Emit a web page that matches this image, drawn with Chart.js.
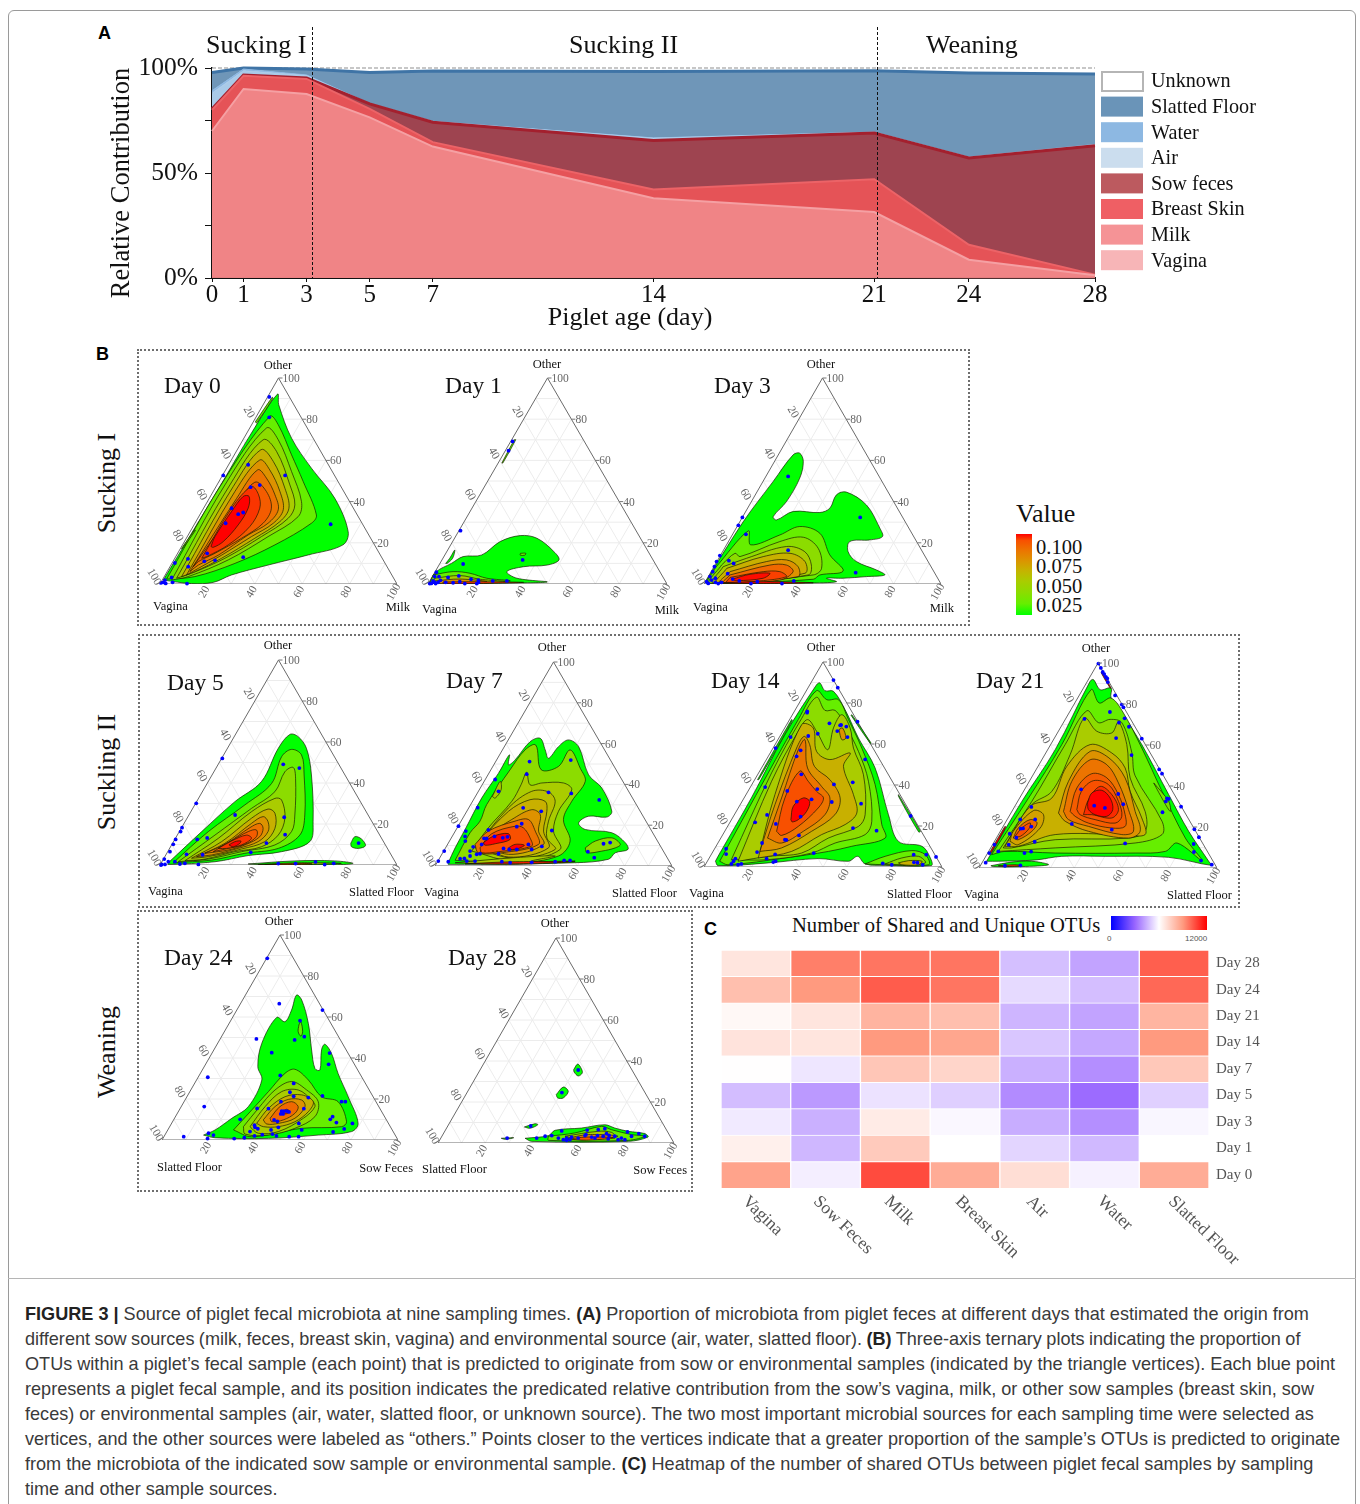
<!DOCTYPE html>
<html>
<head>
<meta charset="utf-8">
<title>Figure 3</title>
<script src="https://cdn.jsdelivr.net/npm/chart.js@4/dist/chart.umd.min.js"></script>
<style>
    html, body { margin: 0; padding: 0; background: #fff; }
    body { position: relative; width: 1360px; height: 1504px; overflow: hidden; font-family: "Liberation Serif", serif; color: #111; }
    canvas { position: absolute; }
    .box { position: absolute; box-sizing: border-box; border: 2px dotted #6e6e6e; }
    .frame { position: absolute; left: 8px; top: 10px; width: 1348px; height: 1500px; box-sizing: border-box; border: 1px solid #9a9a9a; border-radius: 6px; }
    .rule { position: absolute; left: 8px; top: 1278px; width: 1348px; height: 1px; background: #b5b5b5; }
    .txt { position: absolute; white-space: nowrap; line-height: 1; }
    .letter { font: bold 18px "Liberation Sans", sans-serif; color: #000; }
    .side { font-size: 26px; transform: translate(-50%, -50%) rotate(-90deg); }
    .caption { position: absolute; left: 25px; top: 1302px; font: 18.1px/25.05px "Liberation Sans", sans-serif; color: #3a3a3a; white-space: nowrap; }
    .caption b { color: #222; }
    .bar { position: absolute; }
</style>
</head>
<body>
<div class="frame"></div>
<div class="rule"></div>
<div class="txt letter" style="left:98px;top:23px">A</div>
<div class="txt letter" style="left:96px;top:344px">B</div>
<div class="txt letter" style="left:704px;top:919px">C</div>

<div class="box" style="left:137px;top:349px;width:833px;height:277px"></div>
<div class="box" style="left:138px;top:634px;width:1102px;height:274px"></div>
<div class="box" style="left:137px;top:910px;width:556px;height:282px"></div>

<div class="txt side" style="left:107px;top:483px">Sucking I</div>
<div class="txt side" style="left:107px;top:772px">Suckling II</div>
<div class="txt side" style="left:107px;top:1052px">Weaning</div>

<div class="txt" style="left:1016px;top:501px;font-size:26px">Value</div>
<div class="bar" style="left:1016px;top:534px;width:16px;height:81px;background:linear-gradient(to top,#00ff00 0%,#66ee00 14%,#8cdc00 28%,#aacc00 42%,#c8b000 56%,#dd9200 68%,#ec7400 80%,#f85000 92%,#ff0000 100%)"></div>
<div class="txt" style="left:1036px;top:537px;font-size:20.5px">0.100</div>
<div class="txt" style="left:1036px;top:556px;font-size:20.5px">0.075</div>
<div class="txt" style="left:1036px;top:576px;font-size:20.5px">0.050</div>
<div class="txt" style="left:1036px;top:595px;font-size:20.5px">0.025</div>

<div class="txt" style="left:792px;top:915px;font-size:20.6px">Number of Shared and Unique OTUs</div>
<div class="bar" style="left:1111px;top:916px;width:96px;height:14px;background:linear-gradient(to right,#0000ff 0%,#9966ff 25%,#ffffff 50%,#ff9a7f 75%,#ff0000 100%)"></div>
<div class="txt" style="left:1107px;top:934px;font:8px 'Liberation Sans',sans-serif;color:#555">0</div>
<div class="txt" style="left:1185px;top:934px;font:8px 'Liberation Sans',sans-serif;color:#555">12000</div>

<div class="caption">
<b>FIGURE 3 |</b> Source of piglet fecal microbiota at nine sampling times. <b>(A)</b> Proportion of microbiota from piglet feces at different days that estimated the origin from<br>
<span style="word-spacing:-0.6px">different sow sources (milk, feces, breast skin, vagina) and environmental source (air, water, slatted floor). <b>(B)</b> Three-axis ternary plots indicating the proportion of</span><br>
OTUs within a piglet’s fecal sample (each point) that is predicted to originate from sow or environmental samples (indicated by the triangle vertices). Each blue point<br>
represents a piglet fecal sample, and its position indicates the predicated relative contribution from the sow’s vagina, milk, or other sow samples (breast skin, sow<br>
feces) or environmental samples (air, water, slatted floor, or unknown source). The two most important microbial sources for each sampling time were selected as<br>
vertices, and the other sources were labeled as “others.” Points closer to the vertices indicate that a greater proportion of the sample’s OTUs is predicted to originate<br>
from the microbiota of the indicated sow sample or environmental sample. <b>(C)</b> Heatmap of the number of shared OTUs between piglet fecal samples by sampling<br>
time and other sample sources.
</div>

<script>
// -----------------------------
// Panel A data
// -----------------------------
const ageDays = [0, 1, 3, 5, 7, 14, 21, 24, 28];
const phaseBreaks = [3.16, 21.09];
const vaginaShare = [0.4, 0.3, 0.3, 0.2, 0.2, 0.2, 0.2, 0.1, 0.1];
const milkShare = [69.6, 89.7, 87.3, 76.3, 62.4, 37.8, 31.2, 8.6, 1.2];
const breastSkinShare = [10, 6.3, 7.2, 4, 2.1, 4.2, 15.6, 7.1, 0.3];
const sowFecesShare = [0.5, 0.3, 0.4, 2.4, 9.5, 23.3, 22, 41.4, 61.4];
const airShare = [7.5, 2.1, 1.2, 0.1, 0.3, 1.1, 0.4, 0.3, 0.5];
const waterShare = [1.2, 0.8, 0.3, 0.1, 0.1, 0.1, 0.1, 0.1, 0.1];
const slattedShare = [8.7, 0.5, 2.8, 14.8, 24, 31.6, 29.2, 40, 33.5];
const unknownShare = [2.1, 0, 0.5, 2.1, 1.4, 1.7, 1.3, 2.4, 2.9];

// -----------------------------
// Panel B data: contours are x,y pairs as % of triangle base and % Other
// -----------------------------
const day0Levels = [0.01, 0.02, 0.03, 0.04, 0.05, 0.06, 0.07, 0.08, 0.09, 0.1, 0.02, 0.02];
const day0Contours = [
    [1.4,1.9, 13.3,24.6, 26.3,49.4, 38.6,73.3, 49.6,92.2, 50.1,87, 55.5,70.8, 63.9,56.2, 73.7,41.7, 79.4,25.4, 77.2,19, 62.5,14.1, 45.6,9.2, 30.2,4.4, 22.5,0.8, 13.3,0.2],
    [2.8,2.4, 25.3,47.3, 46.3,81.4, 49.9,77.3, 55.5,62.7, 60.4,49.8, 66,33.5, 63.9,29.5, 48.5,19, 31.6,10, 14.7,3.6],
    [4.9,1.9, 27.4,48.1, 44.9,75.7, 49.9,70, 55.5,54.6, 59.7,40, 58.3,32.7, 45.6,23, 28.8,11.7, 11.9,3.6],
    [7,2.8, 29.5,48.1, 43.5,70, 49.2,64.3, 54.8,48.1, 56.9,38.4, 54.1,31.9, 42.8,23, 27.4,12.5, 13.3,5.2],
    [9.1,3.6, 30.9,47.3, 42.6,65.2, 47.8,59.5, 52.7,46.5, 54.4,36.8, 50.6,30.3, 40,22.2, 26,12.5, 14.7,6],
    [11.2,4.4, 31.6,44.9, 42.1,60.2, 46.3,55.4, 50.6,44.9, 52,36, 47.8,29.5, 38.6,23, 26,14, 16.2,7.6],
    [12.6,6, 32.3,41.5, 41.2,55.4, 44.9,51.4, 48.5,43.3, 49.9,36, 45.6,29.5, 37.2,23.8, 24.6,14, 16.2,9.2],
    [14,8.4, 31.6,36.8, 40,49.4, 44.9,44.9, 47,36.8, 43.5,29.5, 34.4,22.2, 23.2,14.9, 16.2,10.9],
    [17.6,12.5, 30.2,36.8, 38.6,47.3, 41.6,43.3, 42.1,36.8, 37.9,27.9, 28.8,19, 19.7,13.3],
    [21.5,18.2, 23.2,23, 30.2,35.2, 35.1,42.5, 37.6,42.5, 37.2,36.8, 33,28.7, 26.7,20.6, 22.5,17.8],
    [40.2,78.6, 47.3,90.6, 47.7,90.2, 40.8,78.2],
    [9.1,17.3, 14.7,26.3, 14.9,25.9, 9.3,17]
];
const day0Points = [46.1,90.8, 46.1,80.9, 37.2,57.9, 26.7,52.7, 52.8,52.7, 38.2,47, 42.1,48, 30.2,36.8, 33,33.9, 35.1,34.7, 27.7,29.5, 72,29, 19.9,14.9, 11.8,12.2, 11.9,8.4, 18.7,11, 23.2,11.5, 35.1,13, 6.3,10.2, 4.9,3.2, 2.1,1.9, 1.4,0.8, 2.4,0.3, 0.4,0.5, 5.3,0.8, 11.4,0.2];

const day1Levels = [0.01, 0.02, 0.04, 0.06, 0.09, 0.01, 0.02, 0.02];
const day1Contours = [
    [0.7,0.8, 3.5,6, 9.8,10, 14.7,13.3, 22.5,14.1, 30.2,20.6, 38.6,23.5, 45.6,22.2, 52.7,15.7, 54.8,11.7, 49.9,9.2, 40,8.4, 33,6, 37.2,2.8, 49.9,1, 34.4,0.5, 0.7,0.2],
    [2.1,4.4, 10.5,6, 17.6,5.2, 24.6,2.8, 34.4,1.5, 20.4,0.5, 1.4,0.2],
    [2.8,2.8, 13.3,4.1, 21.8,2.3, 33,1.1, 2.1,0.2],
    [2.8,1.5, 13.3,2.4, 24.6,1.1, 3.5,0.2],
    [6.3,1, 20.4,1.1, 40,0.8, 20.4,0.2, 6.3,0.3],
    [7.4,10, 9.1,12.5, 11.2,16.5, 10.3,12.5, 8,10],
    [38.7,14.9, 40.9,14.9, 40.5,14, 38.6,14],
    [30.9,58.7, 36.1,70, 36.7,70, 31.3,58.7]
];
const day1Points = [35.4,69.2, 33.7,64.7, 13.6,25.9, 14.7,9.7, 39.6,11.7, 3.5,5.7, 2.8,3.6, 4.6,3.6, 8.4,3.2, 12.9,3.9, 18,2.3, 21.1,1.9, 21.1,0.8, 27.1,1.5, 33,1.5, 20.4,0.2, 15.4,0.2, 13.3,1.1, 10.5,0.6, 7.4,0.8, 5.2,1.8, 4.2,0.8, 2.8,0.8, 1.4,0.3, 0.7,0.2, 2.1,1.5, 3.2,0.2];

const day3Levels = [0.01, 0.02, 0.03, 0.04, 0.05, 0.06, 0.075, 0.088, 0.098, 0.1];
const day3Contours = [
    [1.1,1.9, 16.6,30.3, 29.2,49.8, 37.6,62.7, 40.4,63.5, 41.9,59.5, 40.4,51.4, 34.8,40, 29.2,32.7, 30.6,31.1, 37.6,35.2, 48.9,34.7, 53.1,36.8, 55.9,43.3, 60.1,44.6, 68.5,38.4, 74.2,27.1, 75.3,23, 69.9,21.4, 61.5,20.6, 60.8,15.7, 64.3,10.9, 72.8,6.8, 76.3,4.4, 68.5,3.6, 58.7,2.8, 51.7,2.8, 55.9,1.1, 43.3,0.5, 1.1,0.2],
    [4.6,7.6, 18.7,25.8, 19.7,19, 32,23.8, 40.4,27.9, 48.9,24.6, 53.1,14.1, 58.7,6.3, 48.9,4.4, 46.1,2.3, 1.8,0.3],
    [7.4,9.2, 13.1,14.9, 15.2,13.3, 32,20.6, 41.9,22.7, 48.2,17.3, 49.6,7.6, 46.1,4.4, 2.5,0.3],
    [8.1,8.4, 18,12.5, 34.8,18.2, 42.5,15.7, 45.3,9.2, 44,4.4, 3.9,0.5],
    [9.6,7.6, 25,13.3, 36.3,14.9, 42.6,10.9, 42.6,5.2, 5.3,0.5],
    [11,6, 26.4,10.9, 34.8,11.7, 39.7,8.4, 39.7,3.6, 6.7,0.5],
    [11,4.4, 27.8,9.2, 34.8,9.2, 37.6,6, 32,1.9, 8.1,0.5],
    [11,3.2, 25,6, 32,6, 34.8,3.6, 23.6,1.5, 9.6,0.8],
    [11.7,2.3, 19.4,4.7, 27.8,5.2, 25,2.8, 13.8,1.6],
    [4.6,0.6, 25,1.1, 46.1,0.6, 25,0.2]
];
const day3Points = [35.5,52.2, 65.9,32.3, 17.7,24.1, 16.2,32.3, 14.5,28.5, 35.5,16.4, 12.5,10, 10.5,11.3, 10,5, 64,5.5, 12.1,2.4, 4.8,2.8, 4.8,0.8, 14.9,1.5, 22.5,1.1, 19.8,0.2, 7.4,0.8, 6,0.2, 32.9,0.2, 37.9,1.5, 6.7,13.8, 5.3,10.9, 4.4,8.4, 3.7,6, 2.5,3.6, 1.1,1.1, 1.8,0.3, 3.2,1.9];

const day5Levels = [0.01, 0.02, 0.03, 0.04, 0.05, 0.06, 0.07, 0.08, 0.09, 0.1, 0.01, 0.01, 0.04, 0.09];
const day5Contours = [
    [3.5,1.1, 17.6,16.3, 31.6,30.9, 42.8,40.7, 49.9,56.9, 54.8,63.7, 58.3,62.6, 61.8,56.9, 63.9,43.9, 64.6,21.1, 63.2,11.4, 51.3,6.5, 37.2,4.6, 23.2,1.6, 3.5,0.3],
    [5.6,1.1, 20.4,16.3, 35.8,29.3, 47.1,39.8, 51.3,52.8, 55.5,56.4, 59.7,53.7, 60.8,43.9, 61.1,24.4, 59,14.6, 49.9,8.1, 35.8,5.7, 21.8,2.4],
    [7.7,1.6, 23.2,14.6, 38.6,27.6, 48.5,35.8, 52.7,45.5, 56.2,47.6, 57.2,42.3, 56.9,24.4, 55.5,16.3, 48.5,9.8, 34.4,6.5, 20.4,2.9],
    [10.5,2.1, 24.6,13, 38.6,26, 48.5,32.5, 51.3,31.7, 52.7,22.8, 49.9,14.6, 42.8,8.9, 31.6,6.5, 19,2.9],
    [13.3,3.3, 26,11.4, 38.6,22.8, 45.6,27.3, 48.5,25.2, 48.5,17.9, 44.2,11.4, 34.4,7.8, 20.4,4.1],
    [15.4,4.1, 27.4,10.6, 38.6,20.3, 43.5,23.6, 45.6,21.1, 45.6,16.3, 41.4,11.4, 33,8.1, 21.8,4.9],
    [19,5.7, 28.2,10.6, 37.9,18.2, 42.1,20.3, 43.5,17.9, 42.1,13.8, 36.5,10.1, 28.8,7.3],
    [22.5,6.5, 29.5,11.4, 37.2,16.3, 40.7,17.1, 40.7,13.8, 35.8,10.1, 28.8,8.1],
    [24.6,8.1, 30.2,11.7, 36.5,14.6, 38.6,13, 34.4,9.8, 28.1,8.1],
    [29.1,9.8, 31.6,11.4, 34.1,11.7, 33.7,10.6, 30.9,8.9],
    [80.5,10.6, 82.2,13.8, 85,12.7, 86.7,9.4, 83.6,8.1, 80.8,8.9],
    [37.2,0.5, 56.9,2, 73.7,2, 81.5,0.8, 73.7,0.1, 45.6,0.1],
    [41.4,0.3, 59.7,1.1, 76.5,0.8, 59.7,0.2],
    [44.2,0.2, 60,0.8, 64,0.5, 50,0.1]
];
const day5Points = [26.3,52, 52,49.1, 58.8,47.3, 15.3,30.1, 31.7,24.4, 52.4,23.3, 52.8,14.8, 44.9,10.7, 19.9,13.2, 15.7,12.5, 38.3,6.2, 18,5, 11.2,5.2, 83.8,10.7, 9.3,18.2, 8.7,16.3, 6.6,12.5, 5.6,10.1, 4.2,6.5, 1.8,2.9, 0.7,0.3, 2.1,0.3, 3.5,1.6, 6.3,1.6, 8.4,0.5, 10.5,0.8, 16.2,0.3, 49.9,0.7, 57.2,0.7, 65.6,1.5, 69.5,0.2, 73.3,0.8, 0.4,0];

const day7Levels = [0.01, 0.03, 0.03, 0.04, 0.04, 0.045, 0.05, 0.06, 0.07, 0.085, 0.1, 0.1, 0.04, 0.095];
const day7Contours = [
    [5.6,1.6, 8.5,8.9, 12.7,17.9, 19.7,33.3, 26.8,45.5, 31.4,54.5, 31,49.6, 33.8,52, 40.1,60.9, 44.4,62.6, 46.5,56.9, 47.9,52.8, 52.1,58.5, 56.3,61.8, 60.6,58.5, 64.8,44.7, 70.4,38.2, 74.6,26.8, 72.5,24, 64.8,24.4, 60.6,21.1, 63.4,17.9, 74.6,16.3, 80.3,11.4, 81.4,8.1, 76.1,6.5, 73.2,3.3, 59,1.6, 5.6,0.8],
    [8.5,2.8, 14.8,16.3, 19,22, 21.8,30.1, 31.7,47.2, 38,56.9, 42.5,59.3, 44.8,47.2, 52.1,48.8, 57,56.9, 61.3,47.9, 63.4,41.5, 57.7,31.7, 54.2,22.8, 57,12.2, 52.1,4.9, 33.8,1.6],
    [63.4,8.9, 67.6,12.2, 74.6,13.8, 78.2,10.6, 76.1,8.9, 70.4,7.3, 64.1,6.5],
    [24.2,34.1, 27.5,41.5, 27.9,37.4, 25.4,33.3],
    [15.5,7.3, 22.5,18.7, 32.4,31.7, 36.3,39.8, 38.7,46, 40.1,39.8, 45.1,40.7, 54.2,40.7, 57.7,37.4, 52.1,26.8, 50,17.1, 52.8,8.1, 33.8,2.4],
    [16.9,8.9, 31,28.5, 40.8,36.6, 47.9,36.3, 50.7,31.7, 47.9,22, 47.2,13.8, 50.7,8.1, 33.8,3.7],
    [18.3,11.4, 31,26.8, 40.1,32.5, 46.5,31.7, 47.2,26.8, 45.8,17.1, 47.9,8.9, 31,4.4],
    [18.3,12.2, 32.4,22.8, 40.8,27.6, 44.4,25.2, 43.7,17.1, 45.8,10.6, 31,5.7],
    [16.9,10.6, 22.5,17.1, 33.8,22, 39.4,22.8, 42.3,17.1, 43.7,10.6, 28.2,6.5, 18.3,6.5],
    [19,8.9, 23.9,15.8, 33.8,19.5, 37.3,18.7, 40.1,13.8, 40.8,9.8, 26.8,7, 19.7,6.5],
    [20.4,11.4, 24.6,14.6, 30.9,15.9, 31.7,13, 25.4,10.9, 21.1,10.2],
    [31,8.9, 33.8,10.6, 37.7,10.2, 35.2,8.6, 31.7,8.1],
    [8.5,1.6, 33.8,4.1, 50.7,4.9, 40.8,2.4, 59.1,2.4, 33.8,0.8],
    [12.7,1.1, 33.8,2.1, 59.1,2.1, 33.8,1.1]
];
const day7Points = [39.9,51.2, 57.3,51.9, 38.7,45, 25.4,42.4, 26.8,36.6, 47.9,36.1, 57.5,35.6, 69.3,32.4, 18,28.6, 37.2,28.5, 44.8,26.8, 9.9,19.5, 13,17.1, 36.6,20.7, 34.5,19.3, 22.5,17.7, 49.3,17.4, 12.7,14.5, 12.8,12.2, 20.7,13.5, 21.8,13.5, 25.1,14.5, 28.6,13.8, 30.6,14.3, 19.7,10.6, 16.1,9.4, 28.9,8.6, 31.3,8.1, 34.5,8.1, 39.4,10.6, 40.8,8.1, 45.1,9.6, 71.1,10.9, 73.9,11.5, 64.5,7, 67.2,4.1, 3.9,7.3, 1.4,2.4, 5.6,2.1, 10.6,3.6, 12.4,3.7, 14.8,4.9, 17.6,5.7, 19,6, 14.8,7.3, 13.4,2.4, 16.9,2.4, 26.8,6, 28.2,2.1, 31.7,1.6, 40.8,1.8, 50.7,2.1, 54.5,2.8, 57,2.8];

const day14Levels = [0.01, 0.02, 0.03, 0.04, 0.05, 0.06, 0.07, 0.085, 0.1, 0.02, 0.03, 0.05, 0.06, 0.01, 0.01, 0.01];
const day14Contours = [
    [4.8,2.8, 5.9,5.2, 19.9,33.7, 34,64.6, 47.3,88.9, 48.7,89.8, 50.8,86, 54.4,85.7, 59.3,76.7, 64.9,62.9, 71.9,48.3, 77.5,25.5, 81.7,12.5, 91.6,10.1, 95.1,4.4, 95.5,0.7, 76.1,0.8, 67.7,1.5, 64.6,5.2, 60.7,2.8, 48,4.1, 27,2, 5.9,0.7],
    [6.6,2.8, 27,45.9, 39.6,71.9, 47.3,86, 51.6,81.6, 56.5,81.6, 60.7,71.9, 66.3,58, 71.9,40.2, 74.7,20.7, 76.1,14.1, 62.1,10.1, 52.3,7.6, 34,4.4, 10.1,1.1],
    [11.5,3.6, 28.4,45.9, 41,72.4, 47.3,82.8, 50.8,76.4, 55.1,76.4, 59.3,69.1, 64.9,56.4, 69.1,41.8, 70.5,22.3, 67.7,15.8, 55.1,11.7, 45.2,6.8, 27,3.6],
    [14.3,2.8, 28.4,41.8, 39.6,66.2, 43.5,71.9, 47.3,66.2, 52,57.2, 54.4,67.8, 57.9,74.3, 61.4,67.8, 62.8,58, 67,45, 67.7,25.5, 64.9,19.8, 52.2,14.1, 41,6.8, 27,5.2],
    [22.8,4.4, 29.8,35.3, 41,69.4, 45.9,67.8, 47.3,56.4, 52.9,52.4, 61.4,55.6, 58.6,49.1, 62.8,35.3, 64.2,26.3, 59.3,20.7, 49.4,15.8, 36.8,7.6],
    [23.5,7.6, 29.8,30.4, 38.9,58, 42.1,63.7, 44.4,59.7, 46.4,49.1, 52.9,42.6, 57.2,33.7, 55,25.5, 45.2,17.4, 32.6,9.3],
    [26.7,14.1, 32.6,33.7, 39.6,57.2, 42.4,62.1, 43.5,48.3, 49.4,39.3, 52.9,33.7, 50.8,25.5, 41.7,17.4, 32.6,11.7],
    [30.5,17.4, 34,33.7, 40.3,46.8, 43.8,41.8, 47.3,36.9, 50.2,33.7, 48,28.8, 39.6,19.8, 32.6,15.4],
    [36.5,23.1, 37.5,29.6, 41.7,33.7, 44.4,32, 43.1,27.1, 39.6,23.1, 37.1,22],
    [67.7,1.5, 76.1,5.2, 87.3,8, 93,6, 94.4,1.1, 76.1,1.1],
    [76.1,1.5, 83.1,4.4, 90.2,5.2, 93,2, 83.1,1.1],
    [81.7,2, 86,3.1, 91.6,2.8, 90.2,1.1, 83.1,1.1],
    [56.7,67, 58.2,67.8, 59.6,62.9, 57.9,62.1],
    [22.5,42.6, 36.8,71.9, 37.1,71.4, 23,42.6],
    [81.7,35.3, 90.9,17.4, 90.2,17.1, 81.7,34.5],
    [62.1,74.3, 70.2,60.5, 69.9,60.2, 61.8,74]
];
const day14Points = [54.4,91.2, 56.2,87.5, 43.4,75.9, 43.3,75.3, 64.5,70.9, 52.7,70.1, 57.2,69.1, 57.6,69.3, 59.8,68.5, 56,66.3, 47.8,65, 43.8,63.9, 60.3,63.4, 36.4,63.4, 30.1,58, 40.6,56.9, 38.9,54, 67.7,52.5, 40.9,45.2, 25.7,39, 62.5,41.3, 54.6,40.3, 47.6,38, 35,37.1, 45.2,33, 39,31.9, 53.7,31.7, 66,30.9, 26.5,25.4, 40.6,24.6, 86.8,24.9, 21.5,21.8, 30.2,21, 62.6,19, 72.5,17.7, 39.9,15.4, 34,13.3, 34.6,13.2, 24.4,11.7, 9.3,8.9, 22.3,7.3, 9.3,6.3, 29.9,6.2, 46.1,6.8, 13.2,4.1, 26.3,4.1, 12.4,2.8, 11.5,1.5, 14.3,1.1, 15.7,1.5, 29.1,2.4, 30.1,2.8, 88.1,6, 93.4,6, 97.5,4.9, 88.2,2.3, 89.7,2.1, 91.9,1.1, 75.1,1.8, 78.9,1.1];

const day21Levels = [0.01, 0.01, 0.09, 0.02, 0.03, 0.04, 0.05, 0.055, 0.06, 0.07, 0.075, 0.08, 0.085, 0.092, 0.1, 0.085, 0.025, 0.1, 0.1];
const day21Contours = [
    [3.2,3.3, 18,32.5, 32,57.7, 46.7,91.1, 48.1,91.9, 50.9,87, 55.5,87.8, 55.5,82.9, 61.4,73.2, 68.4,60.2, 79.7,35.8, 88.1,17.9, 96.5,3.3, 97.6,1.3, 79.7,5.2, 53,5.7, 34.8,5.7, 23.6,3.9, 8.1,3.3],
    [5,1.1, 13.8,2.9, 22.2,3.3, 29.2,1.6, 18,0.7, 6,0.7],
    [8.1,1.1, 15.1,1.6, 18,1.1, 10.9,0.7],
    [5.3,6.5, 20.8,34.1, 34.8,60.2, 47.1,87, 50.5,80.5, 55.5,82.9, 60.7,75.6, 68.4,58.5, 76.9,37.4, 86.7,14.6, 93.7,3.6, 83.2,12.2, 78.3,8.1, 65.6,7.3, 32,7.3, 10.9,8.1],
    [8.1,8.1, 22.2,32.5, 36.2,60.2, 45.3,76.7, 50.2,70.9, 55.1,72.5, 60,70.9, 64.2,56.4, 65.6,45, 76.9,22.8, 76.9,16.3, 65.6,12.2, 32,9.8],
    [10.2,9.8, 22.2,30.9, 30.6,37.4, 38.3,55.3, 44.3,73.2, 49.5,66.7, 55.8,65.9, 58.6,71.2, 62.1,60.2, 63.5,43.9, 69.8,27.6, 69.8,17.9, 62.8,14.6, 32,13.8, 13.7,9.8],
    [10.9,10.6, 21.5,30.1, 30.6,34.1, 36.9,49.6, 46.7,60.2, 55.8,56.1, 61.4,48.8, 63.5,37.4, 68.4,24.4, 69.8,16.3, 60,16.3, 32,16.3, 16.5,10.6],
    [13,13, 14.4,17.9, 22.9,28, 27.1,26, 25.7,19.5, 16.5,11.4],
    [33.4,26.8, 37.6,42.3, 46.7,56.9, 54.6,53.7, 61.4,43.9, 65.6,27.6, 67.7,17.9, 62.8,14.6, 46,17.9, 36.2,22.8],
    [35.5,27.6, 39,42.3, 46.7,52.8, 53.7,50.4, 58.6,41.5, 62.8,28.5, 64.9,17.9, 60,16.3, 46,20.3, 37.6,23.6],
    [14.4,14.6, 16.5,19.5, 21.5,23.6, 24.4,22, 22.2,17.9, 16.5,13.8],
    [38.3,27.6, 41.1,39, 47.4,46, 53.7,44, 58.6,35.8, 61.4,26, 61.4,20.3, 55.8,19.5, 46,21.9, 40.4,25.2],
    [41.1,28.5, 43,37.4, 48.1,42.6, 54.4,40.7, 58.6,32.5, 60,25.2, 57.2,21.9, 48.8,23.6, 42.5,26],
    [43.9,26, 46,33.3, 50.9,39.8, 55.8,35.8, 58.6,28.5, 55.8,24.4, 47.4,26],
    [45.6,31.7, 47.4,36.6, 51.6,37.9, 55.1,34.1, 56.2,28.5, 53.7,25.2, 48.8,26, 46,28.5],
    [15.1,15.4, 18,19.5, 21.5,22, 21,19.2, 17.3,15.4],
    [73.4,41.5, 79.7,32.5, 80.4,27.6, 77.6,32.5],
    [51.6,95.6, 55.5,87.8, 55.1,87.8, 51.3,95.3],
    [4.6,7.8, 10.9,20.3, 11.2,19.8, 5,7.3]
];
const day21Points = [50.2,99.7, 51.2,97.6, 52,95.6, 52.6,94.6, 53.3,93.2, 53.9,92.5, 54.1,90.7, 57.2,84.2, 60,79.7, 60.7,78.4, 55,76.1, 61.2,73, 44.3,72.7, 58.8,70.9, 63,68.9, 57.6,63.4, 68.4,63.1, 64.1,55.1, 75.7,48.1, 76.9,46, 42.9,38.4, 58.5,36.1, 78.5,32.5, 79.7,33.7, 79,34, 60.6,31.1, 52.9,29.3, 48.4,30.4, 84.9,29.9, 22,29.8, 77.1,27.2, 17.3,23.7, 23.6,23.7, 39,21.5, 22,20.2, 17.5,19.2, 18.5,19.3, 90.5,18.9, 55.8,18.7, 12.9,16.7, 92.4,15, 15.7,14.8, 23.4,12.8, 61.4,12, 90.2,11.7, 12.5,11.4, 6.5,11.4, 90.3,7.8, 8.1,8.1, 19.1,7.3, 21.9,8, 4.3,7.3, 93.3,3.6, 2.8,2.6, 97.8,1.6, 10.9,1.1, 17.4,1.3];

const day24Levels = [0.01, 0.02, 0.03, 0.04, 0.05, 0.06, 0.075, 0.095, 0.02];
const day24Contours = [
    [17.6,2.4, 22.5,4.9, 29.6,10.6, 36.6,16.3, 42.3,29.3, 40.6,35.8, 42.3,47.2, 48.6,59.8, 52.1,57.7, 54.9,63.4, 57,70.7, 59.2,68.3, 62,56.9, 63.4,43.9, 64.8,34.9, 66.9,34.1, 67.6,43.9, 69,46.7, 71.8,42.3, 74.6,32.5, 78.9,21.1, 83.1,8.1, 80.3,4.1, 66.2,2.4, 45.1,0.8, 22.5,1.1],
    [30.3,4.9, 38,14.6, 45.1,23.6, 52.1,32.5, 56.3,34.5, 62,29.3, 67.6,21.1, 74.6,18.7, 78.2,8.9, 76.1,6.5, 59.2,5.7, 38,1.6],
    [34.5,6.5, 40.8,15.4, 47.9,24.4, 54.9,28.5, 61.3,24.4, 66.2,18.7, 64.8,11.4, 56.3,5.7, 45.1,2.4, 35.2,2.9],
    [37.3,6.5, 43.7,16.3, 50.7,23.6, 57.7,24.4, 63.4,19.5, 64.8,16.3, 59.9,10.6, 49.3,4.1, 40.8,3.3],
    [40.1,8.1, 45.1,15.4, 52.1,21.1, 59.2,22, 64.1,18.7, 62,13.8, 56.3,8.9, 49.3,6.5, 43,6.5],
    [42.9,9.8, 47.9,16.3, 53.5,19.8, 59.2,19.5, 60.6,16.3, 56.3,10.6, 49.3,8.1, 44.4,7.8],
    [45.8,10.6, 50,16.3, 54.9,18.7, 57.7,16.3, 56.3,13, 51.4,9.8, 46.5,8.9],
    [51.1,13.8, 52.8,15, 54.2,13.8, 52.1,12.7],
    [58,56.1, 58.8,57.7, 59.6,52.8, 58.8,50.7, 57.7,52.8]
];
const day24Points = [44.6,88.6, 49.7,66.5, 68,63.4, 58.5,58.2, 60.3,50.4, 56.2,48.8, 40,49.3, 46.5,42.6, 71,42.4, 70.6,36.9, 50.1,31.5, 19.4,30.6, 55.8,27.6, 54.2,23.3, 55.8,21.3, 62,20.7, 68,21.5, 50.4,18.7, 76.1,18.7, 77.7,18.7, 17.9,16.3, 40.3,15.4, 45.1,15.3, 60.1,15.3, 50.7,14.1, 51.7,14.1, 52.8,14.1, 53.8,13.7, 50.3,12.7, 51.3,12.7, 47.5,9.8, 48.9,9.1, 72.3,11.4, 71.3,10.1, 73.9,8.5, 80.7,8.1, 33.1,10.1, 39.2,7.2, 39.4,6.2, 37.3,4.1, 40.6,5.5, 49.3,6.2, 58,8.1, 59.2,4.9, 46.2,4.9, 77.2,5.4, 72.5,3.9, 46.8,2.9, 42.5,2.6, 39.2,2, 34.9,1.1, 30.6,0.7, 48.5,2, 53.9,1.6, 57.9,1.6, 19.7,3.3, 21.8,2.4, 19.3,0.7, 9.2,1.6];

const day28Levels = [0.01, 0.02, 0.04, 0.065, 0.085, 0.01, 0.01, 0.01, 0.01];
const day28Contours = [
    [36.9,2.3, 46.8,3.6, 49.6,6.2, 60.8,7.3, 70.7,8.9, 74.9,7.3, 80.6,5.7, 87.6,4.6, 89,2.9, 80.6,0.8, 39.7,0.8],
    [46.8,3.3, 58,4.9, 69.3,8.1, 73.5,6.5, 82,4.1, 87.6,3.3, 80.6,1.3, 46.8,1.3],
    [53.8,3.3, 67.9,5.7, 73.5,5.2, 74.9,3.3, 60.8,1.6],
    [53.8,2, 63.7,4.1, 76.3,3.3, 63.7,1.6],
    [55,1.9, 63,2.9, 75,2.5, 63,1.4],
    [57.5,35.8, 59.2,38.5, 60.8,36.1, 61.1,34.1, 59.4,32.7, 57.7,34.6],
    [50.1,23.6, 53.1,27.3, 55.2,25.2, 53.1,22, 50.7,22],
    [36.6,7.8, 41.1,9.4, 42.3,8.9, 39,7.2],
    [26.8,2.3, 32.1,2.6, 28.5,1.8]
];
const day28Points = [59.4,35.6, 52.5,24.6, 39.3,8.3, 29.3,2.4, 52.4,5.9, 63.2,6.3, 80.3,5.4, 67.9,6.5, 70.7,7, 71.4,4.6, 41.8,2.4, 45.4,3.3, 48.2,3.6, 51,2.4, 53.1,1.6, 54.5,2.4, 56.6,2.9, 59.4,2.4, 62.7,4.1, 65.1,2.9, 67.6,3.6, 70,3.3, 72.5,3.7, 74.9,3.3, 77.7,2.4, 82,3.3, 85.1,4.6, 87.6,3.3, 54.5,1.3, 55.9,1.6, 62.3,3.6, 66.5,2.4, 72.1,2, 76.3,1.6, 79.2,1.6];

const gridValues = [10, 20, 30, 40, 50, 60, 70, 80, 90];
const tickValues = [20, 40, 60, 80, 100];

// -----------------------------
// Panel C data
// -----------------------------
const heatSources = ['Vagina', 'Sow Feces', 'Milk', 'Breast Skin', 'Air', 'Water', 'Slatted Floor'];
const heatDays = ['Day 0', 'Day 1', 'Day 3', 'Day 5', 'Day 7', 'Day 14', 'Day 21', 'Day 24', 'Day 28'];
const otusDay0 = [8730, 5670, 10540, 8470, 6980, 5730, 8470];
const otusDay1 = [6450, 4590, 7570, 6000, 5180, 4630, 6000];
const otusDay3 = [5590, 4450, 6590, 5840, 4390, 3800, 5820];
const otusDay5 = [4700, 4000, 5430, 5060, 3730, 3100, 5080];
const otusDay7 = [6030, 5510, 7690, 7250, 4450, 3780, 7630];
const otusDay14 = [6830, 6770, 9000, 8650, 4880, 4300, 9000];
const otusDay21 = [6200, 6770, 8230, 7900, 4550, 4200, 8200];
const otusDay24 = [7900, 9000, 10200, 9720, 5270, 4725, 9970];
const otusDay28 = [6770, 9530, 9720, 9720, 4745, 4200, 10150];

// -----------------------------
// Helpers
// -----------------------------
const serif = '"Liberation Serif", serif';

function drawText(ctx, text, x, y, font, color, align, angle) {
    ctx.save();
    ctx.translate(x, y);
    if (angle) ctx.rotate(angle * Math.PI / 180);
    ctx.font = font;
    ctx.fillStyle = color || '#111';
    ctx.textAlign = align || 'left';
    ctx.textBaseline = 'middle';
    ctx.fillText(text, 0, 0);
    ctx.restore();
}

function addCanvas(left, top, width, height) {
    const c = document.createElement('canvas');
    c.style.left = left + 'px';
    c.style.top = top + 'px';
    c.style.width = width + 'px';
    c.style.height = height + 'px';
    c.width = width;
    c.height = height;
    document.body.appendChild(c);
    return c;
}

function mixStops(stops, v) {
    if (v <= stops[0][0]) return `rgb(${stops[0].slice(1).join(',')})`;
    for (let i = 1; i < stops.length; i++) {
        if (v <= stops[i][0]) {
            const a = stops[i - 1], b = stops[i];
            const t = (v - a[0]) / (b[0] - a[0]);
            const c = [1, 2, 3].map(k => Math.round(a[k] + (b[k] - a[k]) * t));
            return `rgb(${c.join(',')})`;
        }
    }
    return `rgb(${stops[stops.length - 1].slice(1).join(',')})`;
}

const densityStops = [[0.01, 0, 255, 0], [0.02, 102, 238, 0], [0.03, 140, 220, 0], [0.04, 170, 204, 0], [0.05, 200, 176, 0], [0.06, 221, 146, 0], [0.07, 236, 116, 0], [0.085, 248, 80, 0], [0.1, 255, 0, 0]];
const heatStops = [[0, 0, 0, 255], [3000, 153, 102, 255], [6000, 255, 255, 255], [9000, 255, 154, 127], [12000, 255, 0, 0]];

// -----------------------------
// Panel A: stacked area
// -----------------------------
const areaSeries = [
    { label: 'Vagina', data: vaginaShare, fill: '#f08486', line: '#f08486', key: '#f7b5b7', width: 1 },
    { label: 'Milk', data: milkShare, fill: '#f08486', line: '#f5a0a3', key: '#f59396', width: 2 },
    { label: 'Breast Skin', data: breastSkinShare, fill: '#e55357', line: '#ec6367', key: '#ef5f64', width: 2 },
    { label: 'Sow feces', data: sowFecesShare, fill: '#9e4450', line: '#a3202e', key: '#bc5a5f', width: 3 },
    { label: 'Air', data: airShare, fill: '#a9cae8', line: '#a9cae8', key: '#cbddee', width: 1 },
    { label: 'Water', data: waterShare, fill: '#8db8e2', line: '#8db8e2', key: '#8db8e2', width: 1 },
    { label: 'Slatted Floor', data: slattedShare, fill: '#6f96b8', line: '#3f74a6', key: '#6a94b8', width: 3 },
    { label: 'Unknown', data: unknownShare, fill: '#ffffff', line: '#b5b5b5', key: '#ffffff', width: 1.5 }
];

const areaDecor = {
    id: 'areaDecor',
    afterDraw(chart) {
        const { ctx, scales } = chart;
        ctx.save();
        ctx.strokeStyle = '#111';
        ctx.lineWidth = 1;
        ctx.setLineDash([3, 2]);
        phaseBreaks.forEach(d => {
            const px = Math.round(scales.x.getPixelForValue(d)) + 0.5;
            ctx.beginPath();
            ctx.moveTo(px, 27);
            ctx.lineTo(px, scales.y.getPixelForValue(0));
            ctx.stroke();
        });
        ctx.restore();

        drawText(ctx, 'Sucking I', 206, 46, '26px ' + serif);
        drawText(ctx, 'Sucking II', 569, 46, '26px ' + serif);
        drawText(ctx, 'Weaning', 926, 46, '26px ' + serif);
        drawText(ctx, 'Piglet age (day)', 630, 318, '26px ' + serif, '#111', 'center');
        drawText(ctx, 'Relative Contribution', 122, 183, '26.5px ' + serif, '#111', 'center', -90);

        // legend, top to bottom
        [...areaSeries].reverse().forEach((s, i) => {
            const y = 71 + i * 25.6;
            ctx.fillStyle = s.key;
            ctx.fillRect(1101, y, 42, 20);
            if (s.label === 'Unknown') {
                ctx.strokeStyle = '#b5b5b5';
                ctx.lineWidth = 2;
                ctx.strokeRect(1102, y + 1, 41, 19);
            }
            drawText(ctx, s.label, 1151, y + 11, '20.2px ' + serif);
        });
    }
};

new Chart(addCanvas(0, 0, 1360, 340), {
    type: 'line',
    data: {
        datasets: areaSeries.map((s, i) => ({
            label: s.label,
            data: ageDays.map((d, k) => ({ x: d, y: s.data[k] })),
            backgroundColor: s.fill,
            borderColor: s.line,
            borderWidth: s.width,
            borderDash: s.label === 'Unknown' ? [4, 2] : [],
            fill: i === 0 ? 'origin' : '-1',
            pointRadius: 0,
            tension: 0,
            clip: false
        }))
    },
    plugins: [areaDecor],
    options: {
        responsive: false,
        animation: false,
        layout: { padding: { left: 108, right: 265, top: 68, bottom: 0 } },
        plugins: { legend: { display: false }, tooltip: { enabled: false } },
        scales: {
            x: {
                type: 'linear', min: 0, max: 28,
                afterBuildTicks: axis => { axis.ticks = ageDays.map(d => ({ value: d })); },
                afterFit: axis => { axis.height = 62; },
                grid: { drawOnChartArea: false, color: '#111', tickLength: 4 },
                border: { color: '#111', width: 2 },
                ticks: { font: { family: serif, size: 25 }, color: '#111', maxRotation: 0, autoSkip: false, padding: -2 }
            },
            y: {
                stacked: true, min: 0, max: 100,
                afterBuildTicks: axis => { axis.ticks = [0, 25, 50, 75, 100].map(v => ({ value: v })); },
                afterFit: axis => { axis.width = 104; },
                grid: { drawOnChartArea: false, color: '#111', tickLength: 7 },
                border: { color: '#111', width: 2 },
                ticks: {
                    font: { family: serif, size: 25.5 }, color: '#111', padding: 7,
                    callback: v => (v % 50 === 0 ? v + '%' : '')
                }
            }
        }
    }
});

// -----------------------------
// Panel B: ternary plots
// -----------------------------
function toXY(flat) {
    const out = [];
    for (let i = 0; i < flat.length; i += 2) out.push({ x: flat[i], y: flat[i + 1] });
    return out;
}

function gridPath() {
    const pts = [];
    const gap = { x: NaN, y: NaN };
    gridValues.forEach(v => {
        pts.push({ x: v / 2, y: v }, { x: 100 - v / 2, y: v }, gap);
        pts.push({ x: v, y: 0 }, { x: 50 + v / 2, y: 100 - v }, gap);
        pts.push({ x: v, y: 0 }, { x: v / 2, y: v }, gap);
    });
    return pts;
}

// fills each contour as a closed shape from its own line element
const ringFill = {
    id: 'ringFill',
    beforeDatasetDraw(chart, args) {
        const ds = chart.data.datasets[args.index];
        if (!ds.ringColor) return;
        const line = args.meta.dataset;
        line.updateControlPoints(chart.chartArea, args.meta.indexAxis);
        const ctx = chart.ctx;
        ctx.save();
        ctx.beginPath();
        line.path(ctx);
        ctx.closePath();
        ctx.fillStyle = ds.ringColor;
        ctx.fill();
        ctx.restore();
    }
};

const ternaryText = {
    id: 'ternaryText',
    afterDraw(chart) {
        const p = chart.config.options.panel;
        const { ctx, scales: { x, y } } = chart;
        const tickFont = '11.5px ' + serif;
        tickValues.forEach(v => {
            // Other axis, on the right edge
            const rx = x.getPixelForValue(100 - v / 2), ry = y.getPixelForValue(v);
            ctx.strokeStyle = '#777';
            ctx.lineWidth = 1;
            ctx.beginPath();
            ctx.moveTo(rx, ry);
            ctx.lineTo(rx + 4, ry);
            ctx.stroke();
            drawText(ctx, String(v), rx + 4, ry + 1, tickFont, '#666', 'left');
            // left edge
            const lx = x.getPixelForValue((100 - v) / 2), ly = y.getPixelForValue(100 - v);
            drawText(ctx, String(v), lx - 6, ly - 7, tickFont, '#666', 'center', 60);
            // base
            const bx = x.getPixelForValue(v), by = y.getPixelForValue(0);
            drawText(ctx, String(v), bx - 3, by + 8, tickFont, '#666', 'center', -60);
        });
        const ox = chart.canvas.offsetLeft, oy = chart.canvas.offsetTop;
        drawText(ctx, p.title, p.titleX - ox, p.titleY + 2 - oy, '23.5px ' + serif, '#111');
        drawText(ctx, 'Other', p.otherX - ox, p.otherY - oy, '12.5px ' + serif, '#111', 'center');
        drawText(ctx, p.leftName, p.leftNameX - ox, p.nameY - oy, '12.5px ' + serif, '#111', 'left');
        drawText(ctx, p.rightName, p.rightNameX - ox, p.nameY + 1 - oy, '12.5px ' + serif, '#111', 'right');
    }
};

function ternaryPlot(p, levels, contours, points) {
    const pad = 50;
    const rings = contours.map((flat, i) => {
        const pts = toXY(flat);
        pts.push(pts[0]);
        return {
            type: 'scatter',
            data: pts,
            showLine: true,
            ringColor: mixStops(densityStops, levels[i]),
            borderColor: 'rgba(20,25,0,0.85)',
            borderWidth: 0.8,
            pointRadius: 0,
            tension: 0.35,
            cubicInterpolationMode: 'default',
            order: 50 - i
        };
    });
    const grid = {
        data: gridPath(), showLine: true, borderColor: '#ececec', borderWidth: 1,
        pointRadius: 0, tension: 0, spanGaps: false, order: 100
    };
    const frame = {
        data: [{ x: 0, y: 0 }, { x: 100, y: 0 }, { x: 50, y: 100 }, { x: 0, y: 0 }],
        showLine: true, borderColor: '#6a6a6a', borderWidth: 1,
        pointRadius: 0, tension: 0, order: 90
    };
    const dots = {
        data: toXY(points), showLine: false, pointRadius: 1.9, borderWidth: 0,
        pointBackgroundColor: '#0000ff', order: 0, clip: false
    };
    new Chart(addCanvas(p.left - pad, p.top - pad, p.right - p.left + 2 * pad, p.bottom - p.top + 2 * pad), {
        type: 'scatter',
        data: { datasets: [grid, frame, ...rings, dots] },
        plugins: [ringFill, ternaryText],
        options: {
            responsive: false,
            animation: false,
            panel: p,
            layout: { padding: pad },
            plugins: { legend: { display: false }, tooltip: { enabled: false } },
            scales: {
                x: { type: 'linear', min: 0, max: 100, display: false },
                y: { type: 'linear', min: 0, max: 100, display: false }
            }
        }
    });
}

ternaryPlot({ title: 'Day 0', left: 160, right: 397, top: 378, bottom: 584, titleX: 164, titleY: 385, otherX: 278, otherY: 366, leftName: 'Vagina', leftNameX: 153, rightName: 'Milk', rightNameX: 410, nameY: 607 }, day0Levels, day0Contours, day0Points);
ternaryPlot({ title: 'Day 1', left: 428, right: 667, top: 378, bottom: 584, titleX: 445, titleY: 385, otherX: 547, otherY: 365, leftName: 'Vagina', leftNameX: 422, rightName: 'Milk', rightNameX: 679, nameY: 610 }, day1Levels, day1Contours, day1Points);
ternaryPlot({ title: 'Day 3', left: 704, right: 941, top: 378, bottom: 584, titleX: 714, titleY: 385, otherX: 821, otherY: 365, leftName: 'Vagina', leftNameX: 693, rightName: 'Milk', rightNameX: 954, nameY: 608 }, day3Levels, day3Contours, day3Points);
ternaryPlot({ title: 'Day 5', left: 160, right: 397, top: 660, bottom: 865, titleX: 167, titleY: 682, otherX: 278, otherY: 646, leftName: 'Vagina', leftNameX: 148, rightName: 'Slatted Floor', rightNameX: 414, nameY: 892 }, day5Levels, day5Contours, day5Points);
ternaryPlot({ title: 'Day 7', left: 435, right: 672, top: 662, bottom: 866, titleX: 446, titleY: 680, otherX: 552, otherY: 648, leftName: 'Vagina', leftNameX: 424, rightName: 'Slatted Floor', rightNameX: 677, nameY: 893 }, day7Levels, day7Contours, day7Points);
ternaryPlot({ title: 'Day 14', left: 704, right: 942, top: 662, bottom: 867, titleX: 711, titleY: 680, otherX: 821, otherY: 648, leftName: 'Vagina', leftNameX: 689, rightName: 'Slatted Floor', rightNameX: 952, nameY: 894 }, day14Levels, day14Contours, day14Points);
ternaryPlot({ title: 'Day 21', left: 979, right: 1217, top: 663, bottom: 868, titleX: 976, titleY: 680, otherX: 1096, otherY: 649, leftName: 'Vagina', leftNameX: 964, rightName: 'Slatted Floor', rightNameX: 1232, nameY: 895 }, day21Levels, day21Contours, day21Points);
ternaryPlot({ title: 'Day 24', left: 162, right: 398, top: 935, bottom: 1140, titleX: 164, titleY: 957, otherX: 279, otherY: 922, leftName: 'Slatted Floor', leftNameX: 157, rightName: 'Sow Feces', rightNameX: 413, nameY: 1168 }, day24Levels, day24Contours, day24Points);
ternaryPlot({ title: 'Day 28', left: 438, right: 674, top: 938, bottom: 1143, titleX: 448, titleY: 957, otherX: 555, otherY: 924, leftName: 'Slatted Floor', leftNameX: 422, rightName: 'Sow Feces', rightNameX: 687, nameY: 1170 }, day28Levels, day28Contours, day28Points);

// -----------------------------
// Panel C: heatmap
// -----------------------------
const heatRows = [otusDay0, otusDay1, otusDay3, otusDay5, otusDay7, otusDay14, otusDay21, otusDay24, otusDay28];

const heatLabels = {
    id: 'heatLabels',
    afterDraw(chart) {
        const { ctx, scales: { x, y } } = chart;
        heatSources.forEach((name, i) => {
            drawText(ctx, name, x.getPixelForValue(i) - 11 + i * 1.3, y.getPixelForValue(0) + 11, '17.5px ' + serif, '#555', 'left', 44);
        });
    }
};

new Chart(addCanvas(715, 945, 600, 330), {
    type: 'bar',
    data: {
        labels: heatSources,
        datasets: heatRows.map((row, i) => ({
            label: heatDays[i],
            data: row.map(() => 1),
            backgroundColor: row.map(v => mixStops(heatStops, v)),
            borderColor: '#ffffff',
            borderWidth: 1,
            barPercentage: 1,
            categoryPercentage: 1
        }))
    },
    plugins: [heatLabels],
    options: {
        responsive: false,
        animation: false,
        layout: { padding: { left: 6, top: 5, right: 0, bottom: 87 } },
        plugins: { legend: { display: false }, tooltip: { enabled: false } },
        scales: {
            x: { stacked: true, display: false },
            y: {
                stacked: true, position: 'right', min: 0, max: 9,
                afterBuildTicks: axis => { axis.ticks = heatDays.map((d, i) => ({ value: i + 0.5 })); },
                afterFit: axis => { axis.width = 106; axis.paddingTop = 0; axis.paddingBottom = 0; },
                grid: { display: false, drawTicks: false },
                border: { display: false },
                ticks: {
                    font: { family: serif, size: 15 }, color: '#555', padding: 7, autoSkip: false,
                    callback: v => heatDays[v - 0.5]
                }
            }
        }
    }
});
</script>
</body>
</html>
